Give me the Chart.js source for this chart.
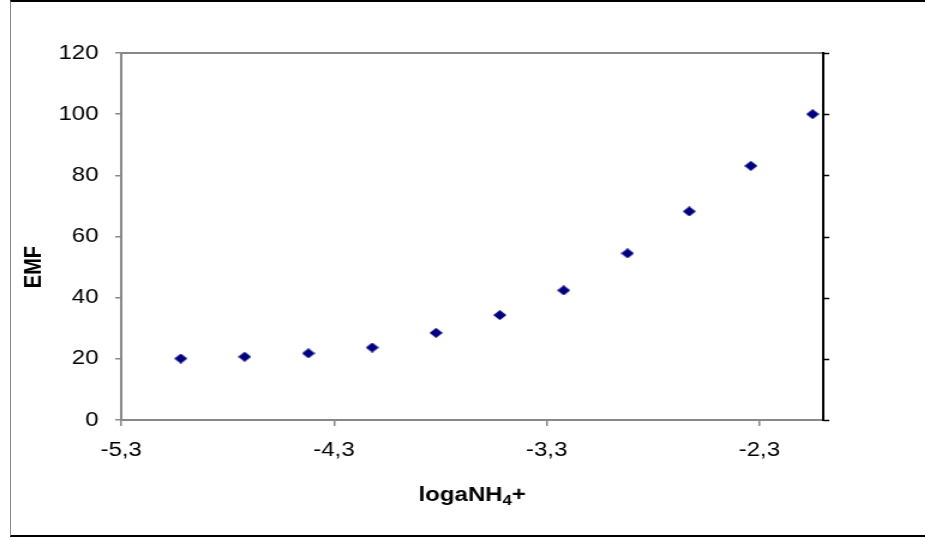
<!DOCTYPE html>
<html>
<head>
<meta charset="utf-8">
<script src="https://cdn.jsdelivr.net/npm/chart.js@4.4.1/dist/chart.umd.min.js"></script>
<style>
  html, body { margin: 0; padding: 0; background: #fff; overflow: hidden; }
  #wrap { position: relative; width: 925px; height: 540px; }
  /* the source picture is stretched sideways, so the canvas is too */
  #stretch { position: absolute; left: 0; top: 0; width: 771px; height: 540px; transform: scaleX(1.2); transform-origin: 0 0; }
  #frame {
    position: absolute; left: 10px; top: 0; width: 925px; height: 537px;
    border-top: 2px solid #000; border-bottom: 2px solid #000; border-left: 1px solid #888;
    box-sizing: border-box; pointer-events: none;
  }
</style>
</head>
<body>
<div id="wrap">
  <div id="stretch"><canvas id="chart" width="771" height="540"></canvas></div>
  <div id="frame"></div>
</div>
<script>
const logaNH4 = [-5.02, -4.72, -4.42, -4.12, -3.82, -3.52, -3.22, -2.92, -2.63, -2.34, -2.05];
const emf = [20.1, 20.7, 21.8, 23.7, 28.5, 34.3, 42.4, 54.5, 68.2, 83.1, 100];
const xTicks = [-5.3, -4.3, -3.3, -2.3];
const yTicks = [0, 20, 40, 60, 80, 100, 120];

const FONT = 'Liberation Sans, Arial, sans-serif';

// navy diamond marker
const marker = document.createElement('canvas');
marker.width = 11;
marker.height = 10;
const mctx = marker.getContext('2d');
mctx.fillStyle = '#000080';
mctx.beginPath();
mctx.moveTo(5.5, 0);
mctx.lineTo(11, 5);
mctx.lineTo(5.5, 10);
mctx.lineTo(0, 5);
mctx.closePath();
mctx.fill();

const plotBox = {
  id: 'plotBox',
  afterDraw(chart) {
    const { ctx, chartArea: a } = chart;
    const y = chart.scales.y;
    ctx.save();
    ctx.strokeStyle = '#888';
    ctx.lineWidth = 2;
    ctx.beginPath();
    ctx.moveTo(a.left, a.top);
    ctx.lineTo(a.right, a.top);
    ctx.stroke();
    ctx.strokeStyle = '#000';
    ctx.beginPath();
    ctx.moveTo(a.right, a.top - 1);
    ctx.lineTo(a.right, a.bottom + 1);
    ctx.stroke();
    ctx.lineWidth = 1.5;
    yTicks.forEach((v) => {
      const py = Math.round(y.getPixelForValue(v)) + 0.5;
      ctx.beginPath();
      ctx.moveTo(a.right, py);
      ctx.lineTo(a.right + 5, py);
      ctx.stroke();
    });

    ctx.fillStyle = '#000';
    ctx.textBaseline = 'alphabetic';

    // x axis title with a real subscript 4
    const main = 'bold 20px ' + FONT;
    const sub = 'bold 14px ' + FONT;
    ctx.font = main;
    const w1 = ctx.measureText('logaNH').width;
    const w3 = ctx.measureText('+').width;
    ctx.font = sub;
    const w2 = ctx.measureText('4').width;
    let tx = (a.left + a.right) / 2 - (w1 + w2 + w3) / 2;
    const ty = a.bottom + 81;
    ctx.textAlign = 'left';
    ctx.font = main;
    ctx.fillText('logaNH', tx, ty);
    tx += w1;
    ctx.font = sub;
    ctx.fillText('4', tx, ty + 4);
    tx += w2;
    ctx.font = main;
    ctx.fillText('+', tx, ty);

    // y axis title, sits a bit below the middle like the original
    ctx.font = 'bold 20px ' + FONT;
    ctx.textAlign = 'center';
    ctx.textBaseline = 'middle';
    ctx.translate(28, y.getPixelForValue(50));
    ctx.rotate(-Math.PI / 2);
    ctx.fillText('EMF', 0, 0);
    ctx.restore();
  }
};

new Chart(document.getElementById('chart').getContext('2d'), {
  type: 'scatter',
  data: {
    datasets: [{
      label: 'EMF',
      data: logaNH4.map((x, i) => ({ x, y: emf[i] })),
      pointStyle: marker,
      pointRadius: 6,
      pointHoverRadius: 6,
      clip: false,
    }]
  },
  options: {
    responsive: false,
    animation: false,
    layout: { padding: { left: 12, top: 53, right: 85, bottom: 20 } },
    plugins: { legend: { display: false }, tooltip: { enabled: false } },
    scales: {
      x: {
        type: 'linear',
        min: -5.3,
        max: -2.0,
        afterBuildTicks: (s) => { s.ticks = xTicks.map((v) => ({ value: v })); },
        afterFit: (s) => { s.height = 100; },
        ticks: {
          color: '#000',
          padding: 12,
          font: { family: FONT, size: 20 },
          callback: (v) => v.toFixed(1).replace('.', ','),
        },
        grid: { drawOnChartArea: false, tickLength: 6, color: '#888', lineWidth: 1.5 },
        border: { color: '#888', width: 2 },
      },
      y: {
        min: 0,
        max: 120,
        afterBuildTicks: (s) => { s.ticks = yTicks.map((v) => ({ value: v })); },
        afterFit: (s) => { s.width = 89; },
        ticks: {
          color: '#000',
          padding: 14,
          font: { family: FONT, size: 20 },
        },
        grid: { drawOnChartArea: false, tickLength: 5, color: '#888', lineWidth: 1.5 },
        border: { color: '#888', width: 2 },
      }
    }
  },
  plugins: [plotBox]
});
</script>
</body>
</html>
